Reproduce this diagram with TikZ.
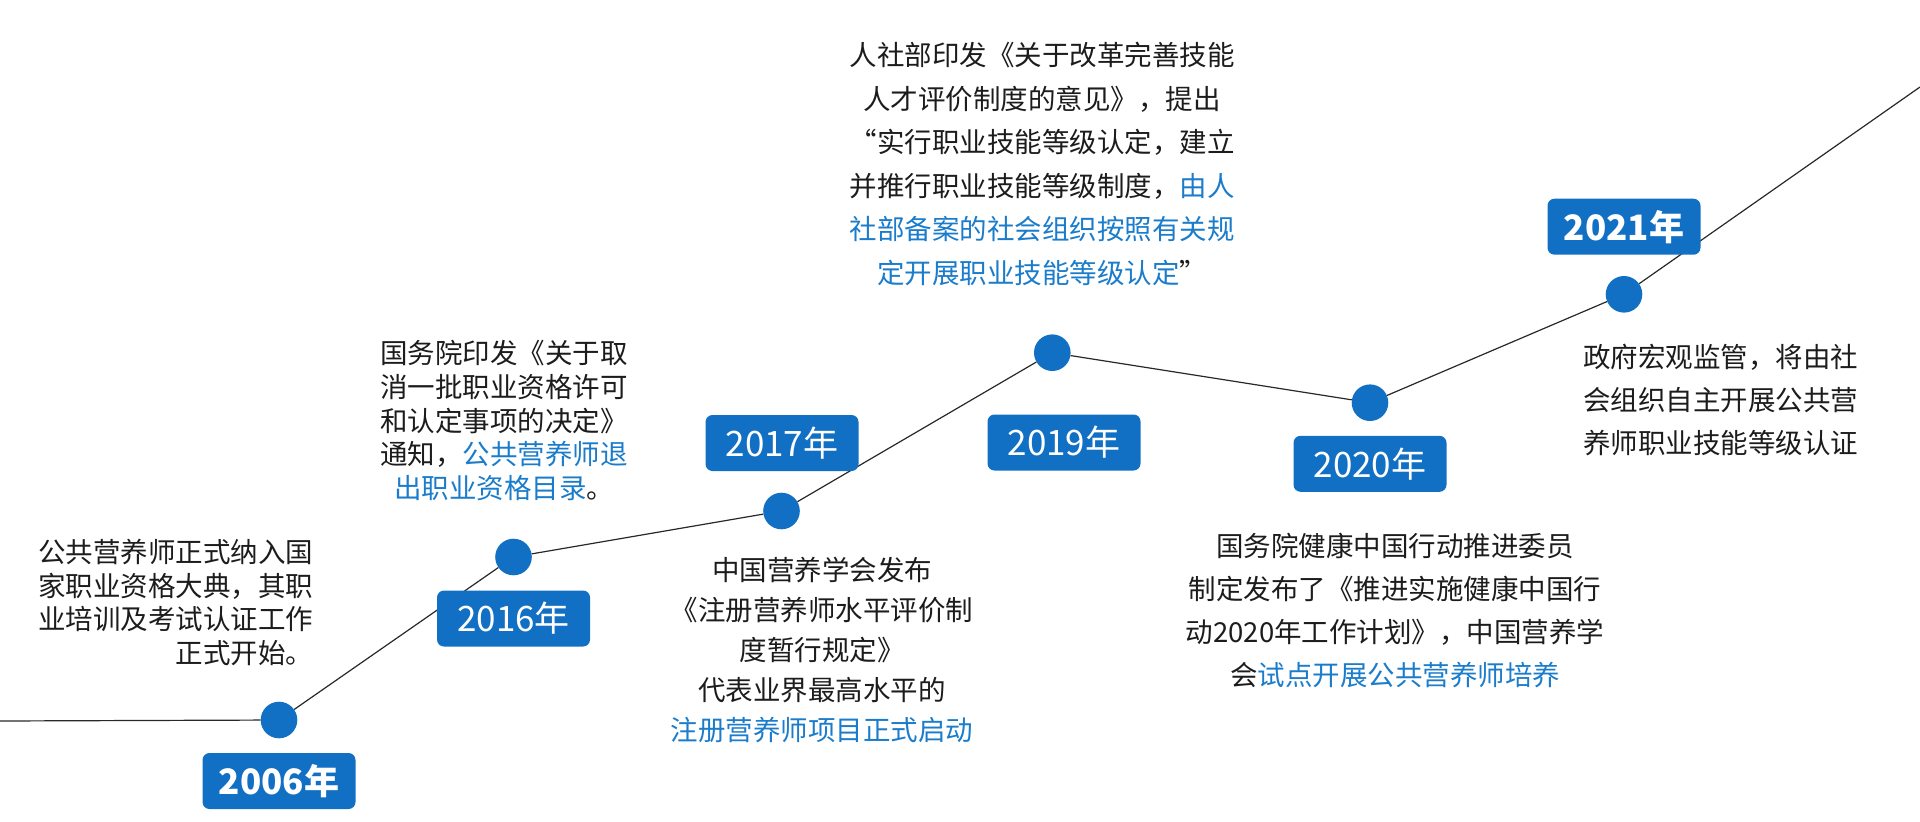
\documentclass[tikz,border=0pt]{standalone}
\usepackage{fontspec}
\setmainfont{Noto Sans CJK SC}
\definecolor{tlblue}{RGB}{18,112,196}
\definecolor{txtblue}{RGB}{26,124,202}
\definecolor{txtdark}{RGB}{28,28,28}
\definecolor{tlline}{RGB}{40,40,40}
\tikzset{
  dotnode/.style={circle, fill=tlblue, minimum size=36.6pt, inner sep=0pt},
  yearbox/.style={rectangle, rounded corners=7pt, fill=tlblue, text=white,
    minimum width=153pt, minimum height=56pt, inner sep=0pt,
    font=\fontsize{35}{38}\selectfont},
  tline/.style={draw=tlline, line width=1.2pt},
  desc/.style={inner sep=0pt, text=txtdark},
}
\begin{document}
\begin{tikzpicture}[x=1pt, y=-1pt]
\useasboundingbox (0,0) rectangle (1920,822);
% dots
\node[dotnode] (d06) at (279,720) {};
\node[dotnode] (d16) at (513.5,557) {};
\node[dotnode] (d17) at (781.5,511) {};
\node[dotnode] (d19) at (1052.3,352.7) {};
\node[dotnode] (d20) at (1370,402.7) {};
\node[dotnode] (d21) at (1624,294.3) {};
\coordinate (start) at (0,721);
\coordinate (finish) at (1920,87);
% connectors
\draw[tline] (start) -- (d06);
\draw[tline] (d06) -- (d16);
\draw[tline] (d16) -- (d17);
\draw[tline] (d17) -- (d19);
\draw[tline] (d19) -- (d20);
\draw[tline] (d20) -- (d21);
\draw[tline] (d21) -- (finish);
% year boxes
\node[yearbox, font=\fontsize{35}{38}\selectfont\bfseries] (y06) at (279,781) {2006年};
\node[yearbox] (y16) at (513.5,618.5) {2016年};
\node[yearbox] (y17) at (782,443) {2017年};
\node[yearbox] (y19) at (1064,442.5) {2019年};
\node[yearbox] (y20) at (1370,463.8) {2020年};
\node[yearbox, font=\fontsize{35}{38}\selectfont\bfseries] (y21) at (1624,226.7) {2021年};
% descriptions
\node[desc, anchor=east, align=right, font=\fontsize{27.5}{33.5}\selectfont] (t06) at (313.5,602.4)
  {公共营养师正式纳入国\\家职业资格大典，其职\\业培训及考试认证工作\\正式开始。};
\node[desc, align=center, font=\fontsize{27.5}{33.7}\selectfont] (t16) at (504,420.5)
  {国务院印发《关于取\\消一批职业资格许可\\和认定事项的决定》\\通知，\textcolor{txtblue}{公共营养师退}\\\textcolor{txtblue}{出职业资格目录}。};
\node[desc, align=center, font=\fontsize{27.5}{40}\selectfont] (t17) at (822,650)
  {中国营养学会发布\\《注册营养师水平评价制\\度暂行规定》\\代表业界最高水平的\\\textcolor{txtblue}{注册营养师项目正式启动}};
\node[desc, align=center, font=\fontsize{27.5}{43.6}\selectfont] (t19) at (1042,164)
  {人社部印发《关于改革完善技能\\人才评价制度的意见》，提出\\“实行职业技能等级认定，建立\\并推行职业技能等级制度，\textcolor{txtblue}{由人}\\\textcolor{txtblue}{社部备案的社会组织按照有关规}\\\textcolor{txtblue}{定开展职业技能等级认定}”};
\node[desc, align=center, font=\fontsize{27.5}{43}\selectfont] (t20) at (1395,610.3)
  {国务院健康中国行动推进委员\\制定发布了《推进实施健康中国行\\动2020年工作计划》，中国营养学\\会\textcolor{txtblue}{试点开展公共营养师培养}};
\node[desc, anchor=west, align=left, font=\fontsize{27.5}{43.3}\selectfont] (t21) at (1583,400)
  {政府宏观监管，将由社\\会组织自主开展公共营\\养师职业技能等级认证};
\end{tikzpicture}
\end{document}
